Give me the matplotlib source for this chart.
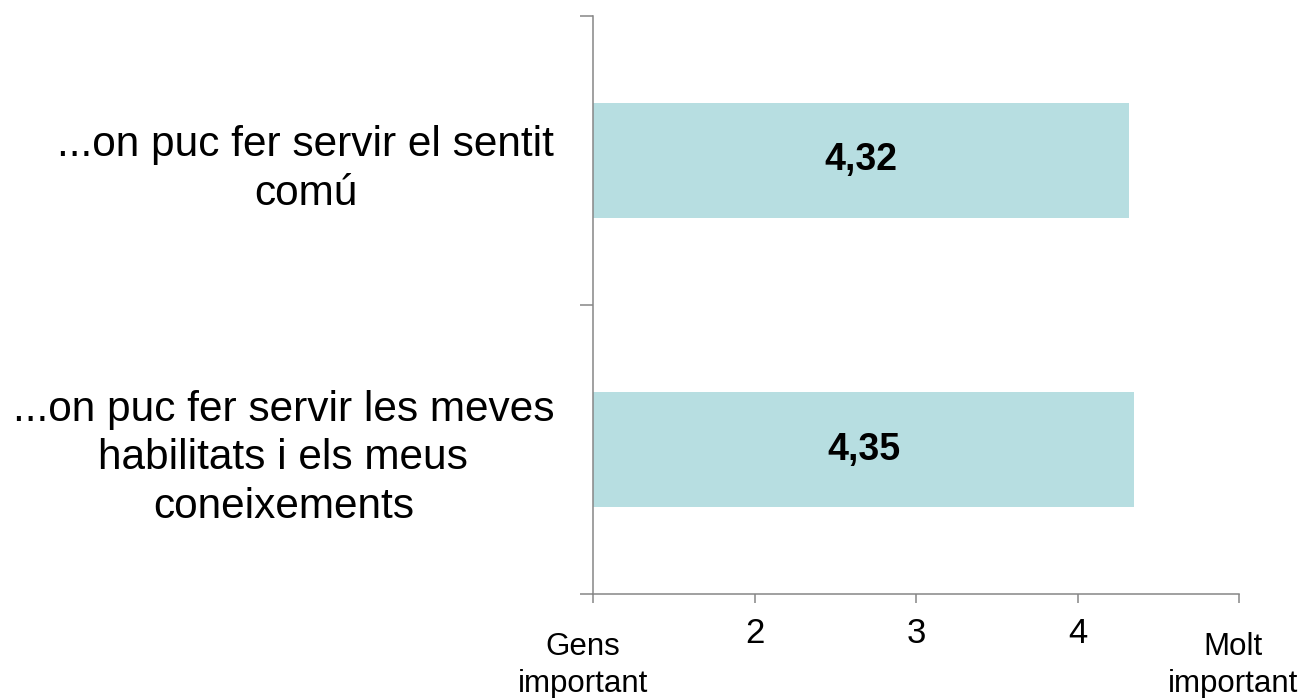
import matplotlib
matplotlib.use("Agg")
from matplotlib import pyplot as plt
from matplotlib import transforms
import numpy as np

# survey items and mean scores
categories = ["...on puc fer servir el sentit\ncomú",
              "...on puc fer servir les meves\nhabilitats i els meus\nconeixements"]
values = [4.32, 4.35]
x_ticks = [1, 2, 3, 4, 5]
x_ticklabels = ["", "2", "3", "4", ""]
end_labels = {1: "Gens\nimportant", 5: "Molt\nimportant"}

plt.rcParams['font.family'] = ['Liberation Sans', 'DejaVu Sans']
axis_gray = '#868686'
bar_color = '#B7DEE1'

fig = plt.figure(figsize=(13.03, 6.98), dpi=100)
ax = fig.add_axes([593 / 1303, 1 - 594 / 698, (1239 - 593) / 1303, (594 - 16) / 698])

pos = np.arange(len(categories))
bars = ax.barh(pos, values, height=0.4, left=0, color=bar_color)

for p, v in zip(pos, values):
    ax.text((1 + v) / 2, p, f"{v:.2f}".replace(".", ","), ha='center', va='center',
            fontsize=27, fontweight='bold', color='black')

ax.set_xlim(1, 5)
ax.set_ylim(1.5, -0.5)

ax.set_xticks(x_ticks)
ax.set_xticklabels(x_ticklabels, fontsize=25)
ax.tick_params(axis='x', direction='out', length=6.5, width=1.1, color=axis_gray, pad=10)

ax.set_yticks(pos)
ax.set_yticklabels(categories, fontsize=30.5, multialignment='center', linespacing=1.28)
ax.set_yticks([-0.5, 0.5, 1.5], minor=True)
ax.tick_params(axis='y', which='major', length=0, pad=28)
ax.tick_params(axis='y', which='minor', direction='out', length=9.4, width=1.1, color=axis_gray)

for side in ['top', 'right']:
    ax.spines[side].set_visible(False)
for side in ['left', 'bottom']:
    ax.spines[side].set_color(axis_gray)
    ax.spines[side].set_linewidth(1.1)

# end labels of the scale, a bit lower than the numbers
base = ax.get_xaxis_transform()
for xv, lab in end_labels.items():
    dx = -10 if xv == 1 else -6
    tr = transforms.offset_copy(base, fig=fig, x=dx, y=-38, units='dots')
    ax.text(xv, 0, lab, transform=tr, ha='center', va='top', fontsize=22.5,
            multialignment='center', linespacing=1.32)

fig.savefig("out.png", dpi=100)
